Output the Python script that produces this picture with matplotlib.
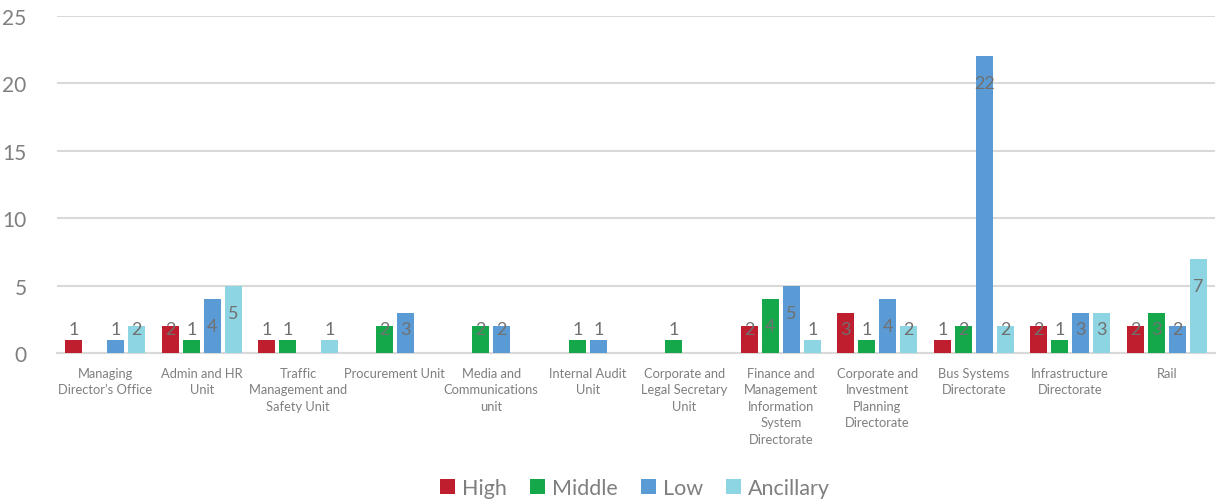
import matplotlib
matplotlib.use("Agg")
import matplotlib.pyplot as plt
import numpy as np
from matplotlib.patches import Patch

categories = [
    "Managing\nDirector\u2019s Office",
    "Admin and HR\nUnit",
    "Traffic\nManagement and\nSafety Unit",
    "Procurement Unit",
    "Media and\nCommunications\nunit",
    "Internal Audit\nUnit",
    "Corporate and\nLegal Secretary\nUnit",
    "Finance and\nManagement\nInformation\nSystem\nDirectorate",
    "Corporate and\nInvestment\nPlanning\nDirectorate",
    "Bus Systems\nDirectorate",
    "Infrastructure\nDirectorate",
    "Rail",
]
high = [1, 2, 1, 0, 0, 0, 0, 2, 3, 1, 2, 2]
middle = [0, 1, 1, 2, 2, 1, 1, 4, 1, 2, 1, 3]
low = [1, 4, 0, 3, 2, 1, 0, 5, 4, 22, 3, 2]
ancillary = [2, 5, 1, 0, 0, 0, 0, 1, 2, 2, 3, 7]
series_names = ["High", "Middle", "Low", "Ancillary"]
yticks = [0, 5, 10, 15, 20, 25]

colors = ["#BE1E2D", "#14A84A", "#5B9BD5", "#8DD5E3"]
text_grey = "#7F7F7F"
label_grey = "#707070"
font = "Lato"

fig = plt.figure(figsize=(12.16, 5.02), dpi=100)
ax = fig.add_axes([57 / 1216, (502 - 354) / 502, (1215 - 57) / 1216, (354 - 17) / 502])

x = np.arange(len(categories))
offsets = [-0.326, -0.109, 0.109, 0.326]
width = 0.176
for s, (vals, off, col) in enumerate(zip([high, middle, low, ancillary], offsets, colors)):
    v = np.array(vals, dtype=float)
    ax.bar(x + off, v, width=width, color=col, zorder=3)
    for xi, vi in zip(x, v):
        if vi > 0:
            ax.text(xi + off, max(vi - 2.0, 1.78), f"{int(vi)}", ha="center", va="center",
                    fontsize=13, color=label_grey, family=font, zorder=4)

ax.set_xlim(-0.5, len(categories) - 0.5)
ax.set_ylim(0, 25)
ax.set_yticks(yticks)
ax.yaxis.grid(True, color="#D9D9D9", linewidth=1.5, zorder=0)
ax.set_axisbelow(True)
for sp in ["top", "right", "left"]:
    ax.spines[sp].set_visible(False)
ax.spines["bottom"].set_color("#D9D9D9")
ax.spines["bottom"].set_linewidth(1.5)
ax.tick_params(axis="y", length=0, pad=22, labelsize=15, labelcolor=text_grey)
ax.tick_params(axis="x", length=0, pad=10)
ax.set_xticks(x)
ax.set_xticklabels(categories, fontsize=9.3, color=text_grey, family=font, linespacing=1.45, va="top")
for t in ax.get_yticklabels():
    t.set_family(font)

handles = [Patch(facecolor=c, label=n) for c, n in zip(colors, series_names)]
leg = fig.legend(handles=handles, loc="center", bbox_to_anchor=(635 / 1216, 1 - 489 / 502), ncol=4,
                 frameon=False, prop={"family": font, "size": 15.5}, handlelength=0.7, handleheight=0.7,
                 handletextpad=0.3, columnspacing=1.1)
for t in leg.get_texts():
    t.set_color(text_grey)

fig.savefig("out.png", dpi=100)
